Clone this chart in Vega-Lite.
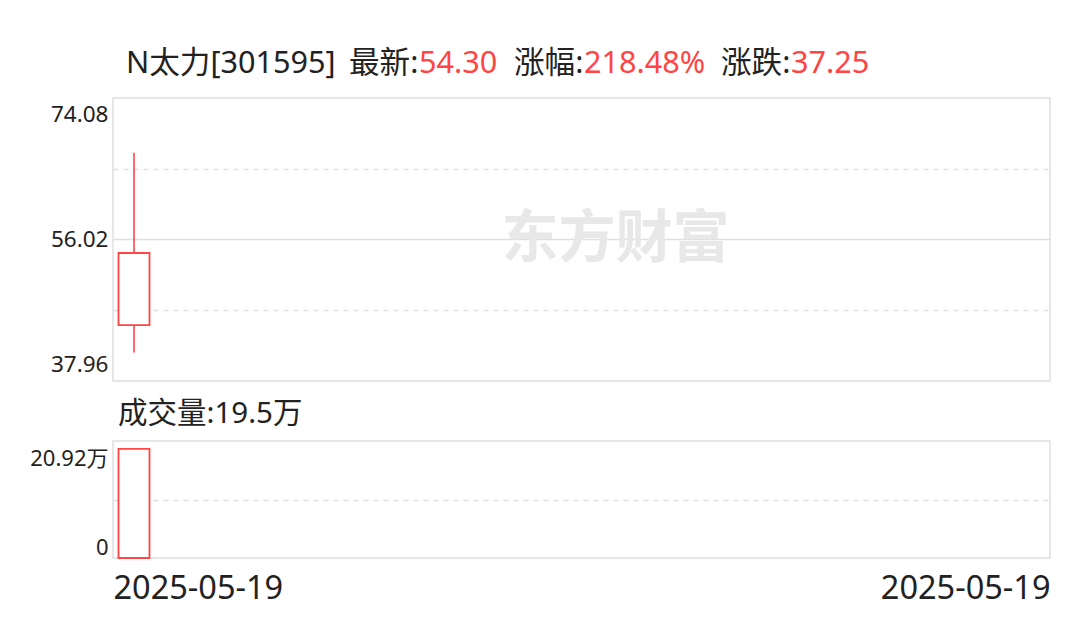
{
  "$schema": "https://vega.github.io/schema/vega-lite/v6.json",
  "background": "white",
  "padding": {"left": 29, "top": 49, "right": 10, "bottom": 10},
  "config": {
    "font": "'Noto Sans', 'Noto Sans CJK SC', sans-serif",
    "view": {"stroke": "#e0e0e0", "strokeWidth": 1.5},
    "title": {"anchor": "start", "fontSize": 30.6, "fontWeight": "normal", "color": "#222222", "offset": 0, "font": "'Noto Sans', 'Noto Sans CJK SC', sans-serif"},
    "axis": {"labelFont": "'Noto Sans', 'Noto Sans CJK SC', sans-serif", "labelColor": "#222222", "domain": false, "ticks": false, "tickSize": 0, "title": null}
  },
  "datasets": {
    "kline": [{"date": "2025-05-19", "open": 45.08, "high": 67.09, "low": 41.61, "close": 54.30, "volume": 19.5}]
  },
  "vconcat": [
    {
      "hconcat": [
        {"width": 1, "height": 1, "view": {"stroke": null}, "data": {"values": [{}]}, "mark": {"type": "point", "opacity": 0, "size": 0}, "encoding": {}, "title": {"text": "N太力[301595]", "dx": 13, "dy": 3}},
        {"width": 1, "height": 1, "view": {"stroke": null}, "data": {"values": [{}]}, "mark": {"type": "point", "opacity": 0, "size": 0}, "encoding": {}, "title": {"text": "最新:", "dx": 13, "dy": 3}},
        {"width": 1, "height": 1, "view": {"stroke": null}, "data": {"values": [{}]}, "mark": {"type": "point", "opacity": 0, "size": 0}, "encoding": {}, "title": {"text": "54.30", "color": "#ff4444", "dy": 3}},
        {"width": 1, "height": 1, "view": {"stroke": null}, "data": {"values": [{}]}, "mark": {"type": "point", "opacity": 0, "size": 0}, "encoding": {}, "title": {"text": "涨幅:", "dx": 16, "dy": 3}},
        {"width": 1, "height": 1, "view": {"stroke": null}, "data": {"values": [{}]}, "mark": {"type": "point", "opacity": 0, "size": 0}, "encoding": {}, "title": {"text": "218.48%", "color": "#ff4444", "dy": 3}},
        {"width": 1, "height": 1, "view": {"stroke": null}, "data": {"values": [{}]}, "mark": {"type": "point", "opacity": 0, "size": 0}, "encoding": {}, "title": {"text": "涨跌:", "dx": 15, "dy": 3}},
        {"width": 1, "height": 1, "view": {"stroke": null}, "data": {"values": [{}]}, "mark": {"type": "point", "opacity": 0, "size": 0}, "encoding": {}, "title": {"text": "37.25", "color": "#ff4444", "dy": 3}}
      ],
      "spacing": 0
    },
    {
      "width": 937,
      "height": 283,
      "data": {"name": "kline"},
      "layer": [
        {
          "mark": {"type": "text", "text": "东方财富", "font": "'Noto Sans CJK SC', sans-serif", "fontSize": 57, "fontWeight": "bold", "color": "#e8e8e8", "dx": 34, "baseline": "middle", "align": "center"},
          "encoding": {}
        },
        {
          "mark": {"type": "rule", "color": "#ff4444", "strokeWidth": 1.6},
          "encoding": {
            "x": {
              "field": "date", "type": "temporal",
              "scale": {"domain": [1747569600000, 1749497184000], "nice": false, "padding": 0},
              "axis": null
            },
            "y": {
              "field": "low", "type": "quantitative",
              "scale": {"domain": [37.96, 74.08], "nice": false, "zero": false},
              "axis": {
                "values": [37.96, 46.99, 56.02, 65.05, 74.08],
                "labelExpr": "datum.value == 46.99 || datum.value == 65.05 ? '' : format(datum.value, '.2f')",
                "labelFontSize": 22.5,
                "labelPadding": 5,
                "labelFlush": true,
                "labelFlushOffset": -5,
                "grid": true,
                "gridColor": "#e0e0e0",
                "gridWidth": 1.5,
                "gridDash": {"condition": {"test": "datum.value == 56.02", "value": []}, "value": [5, 5]},
                "gridOpacity": {"condition": {"test": "datum.value == 37.96 || datum.value == 74.08", "value": 0}, "value": 1}
              }
            },
            "y2": {"field": "high"}
          }
        },
        {
          "mark": {"type": "bar", "width": 31, "fill": "white", "stroke": "#ff4444", "strokeWidth": 1.8},
          "encoding": {
            "x": {"field": "date", "type": "temporal"},
            "y": {"field": "open", "type": "quantitative"},
            "y2": {"field": "close"}
          }
        }
      ]
    },
    {
      "width": 937,
      "height": 117,
      "data": {"name": "kline"},
      "title": {"text": "成交量:19.5万", "dx": 5, "offset": 12, "fontSize": 29.5, "frame": "group"},
      "mark": {"type": "bar", "width": 31, "fill": "white", "stroke": "#ff4444", "strokeWidth": 1.8},
      "encoding": {
        "x": {
          "field": "date", "type": "temporal",
          "scale": {"domain": [1747569600000, 1749497184000], "nice": false, "padding": 0},
          "axis": {
            "values": [1747569600000, 1749497184000],
            "labelExpr": "'2025-05-19'",
            "labelFontSize": 32.5,
            "labelPadding": 14.5,
            "labelFlush": true,
            "grid": false
          }
        },
        "y": {
          "field": "volume", "type": "quantitative",
          "scale": {"domain": [0, 20.92], "nice": false},
          "axis": {
            "values": [0, 10.46, 20.92],
            "labelExpr": "datum.value == 20.92 ? '20.92万' : (datum.value == 0 ? '0' : '')",
            "labelFontSize": 22,
            "labelPadding": 5,
            "labelFlush": false,
            "labelBaseline": "middle",
            "labelOffset": {"condition": {"test": "datum.value == 0", "value": -11}, "value": 17},
            "grid": true,
            "gridColor": "#e0e0e0",
            "gridWidth": 1.5,
            "gridDash": [5, 5],
            "gridOpacity": {"condition": {"test": "datum.value == 10.46", "value": 1}, "value": 0}
          }
        }
      }
    }
  ],
  "spacing": 15
}
